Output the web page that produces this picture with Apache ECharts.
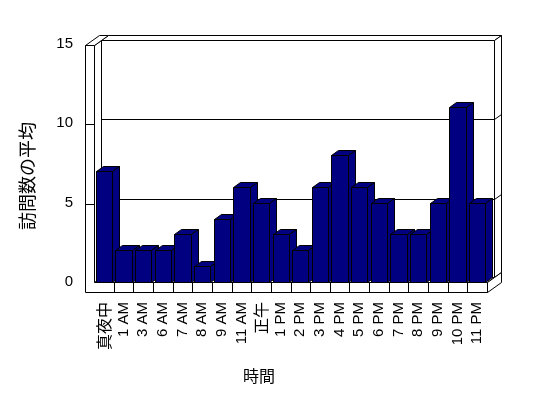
<!DOCTYPE html>
<html>
<head>
<meta charset="utf-8" />
<title>訪問数の平均</title>
<script src="https://cdn.jsdelivr.net/npm/echarts@6/dist/echarts.min.js"></script>
<style>
  html, body { margin: 0; padding: 0; background: #fff; }
  #chart { width: 548px; height: 398px; }
</style>
</head>
<body>
<div id="chart"></div>
<script>
// データ
var hours = ['真夜中', '1 AM', '3 AM', '6 AM', '7 AM', '8 AM', '9 AM', '11 AM', '正午', '1 PM',
             '2 PM', '3 PM', '4 PM', '5 PM', '6 PM', '7 PM', '8 PM', '9 PM', '10 PM', '11 PM'];
var visits = [7, 2, 2, 2, 3, 1, 4, 6, 5, 3, 2, 6, 8, 6, 5, 3, 3, 5, 11, 5];
var yTicks = [0, 5, 10, 15];

var DX = 7, DY = -5;      // 奥行き
var WALL = 9, FLOOR = 10; // 壁・床の厚さ
var NAVY = '#000080';
var FONT = '"Liberation Sans", "Noto Sans CJK JP", sans-serif';

function px(v) { return Math.round(v) + 0.5; }

function poly(points, fill) {
    return {
        type: 'polygon',
        shape: { points: points },
        style: { fill: fill || '#fff', stroke: '#000', lineWidth: 1 }
    };
}
function seg(points) {
    return {
        type: 'polyline',
        shape: { points: points },
        style: { fill: null, stroke: '#000', lineWidth: 1 }
    };
}

// 壁と床
function renderFrame(params, api) {
    var cs = params.coordSys;
    var L = px(cs.x), R = px(cs.x + cs.width), B = px(cs.y + cs.height);
    var T = px(api.coord([0, yTicks[yTicks.length - 1]])[1] + 1);
    var lw = L - WALL;
    var band = cs.width / hours.length;
    var kids = [];

    // back wall
    kids.push(poly([[L + DX, T + DY], [R + DX, T + DY], [R + DX, B + DY], [L + DX, B + DY]]));
    kids.push(poly([[L + DX, T + DY], [R + DX, T + DY], [R + 2 * DX, T + 2 * DY], [L + 2 * DX, T + 2 * DY]]));
    kids.push(poly([[R + DX, T + DY], [R + 2 * DX, T + 2 * DY], [R + 2 * DX, B + 2 * DY], [R + DX, B + DY]]));
    // gridlines
    for (var i = 1; i < yTicks.length - 1; i++) {
        var gy = px(api.coord([0, yTicks[i]])[1] + 1) + DY;
        kids.push(seg([[L + DX, gy], [R + DX, gy], [R + 2 * DX, gy + DY]]));
    }
    // floor
    kids.push(poly([[L, B], [R, B], [R + DX, B + DY], [L + DX, B + DY]]));
    kids.push(poly([[R, B], [R + DX, B + DY], [R + 2 * DX, B + 2 * DY], [R + 2 * DX, B + FLOOR + 2 * DY], [R, B + FLOOR]]));
    // left wall
    kids.push(poly([[L, T], [L + DX, T + DY], [L + DX, B + DY], [L, B]]));
    kids.push(poly([[lw, T], [L, T], [L + 2 * DX, T + 2 * DY], [lw + 2 * DX, T + 2 * DY]]));
    kids.push(poly([[lw, T], [L, T], [L, B], [R, B], [R, B + FLOOR], [lw, B + FLOOR]]));
    for (var j = 1; j < yTicks.length - 1; j++) {
        var ty = px(api.coord([0, yTicks[j]])[1] + 1);
        kids.push(seg([[lw, ty], [L, ty]]));
    }
    // category boxes
    for (var k = 1; k < hours.length; k++) {
        var cx = px(cs.x + k * band);
        kids.push(seg([[cx, B], [cx, B + FLOOR]]));
    }
    return { type: 'group', children: kids };
}

// 3D 棒
function renderBar(params, api) {
    var idx = api.value(0);
    var top = api.coord([idx, api.value(1)]);
    var base = api.coord([idx, 0]);
    var bw = api.size([1, 0])[0] * 0.83;
    var x0 = px(top[0] - bw / 2), x1 = px(top[0] + bw / 2);
    var yT = px(top[1]), yB = px(base[1]);
    return {
        type: 'group',
        children: [
            poly([[x0, yT], [x1, yT], [x1, yB], [x0, yB]], NAVY),
            poly([[x0, yT], [x1, yT], [x1 + DX, yT + DY], [x0 + DX, yT + DY]], NAVY),
            poly([[x1, yT], [x1 + DX, yT + DY], [x1 + DX, yB + DY], [x1, yB]], NAVY)
        ]
    };
}

var myChart = echarts.init(document.getElementById('chart'));

var option = {
    backgroundColor: '#fff',
    animation: false,
    grid: { left: 94, right: 61, top: 44, bottom: 116 },
    xAxis: {
        type: 'category',
        data: hours,
        axisLine: { show: false },
        axisTick: { show: false },
        axisLabel: {
            interval: 0,
            rotate: 90,
            margin: 20,
            color: '#000',
            fontSize: 15,
            fontFamily: FONT,
            formatter: function (v) {
                return /[^\x00-\x7f]/.test(v) ? '{cjk|' + v + '}' : v;
            },
            rich: {
                cjk: { fontSize: 16, fontFamily: '"Noto Sans CJK JP"', color: '#000' }
            }
        }
    },
    yAxis: {
        type: 'value',
        min: 0,
        max: 15,
        interval: 5,
        axisLine: { show: false },
        axisTick: { show: false },
        splitLine: { show: false },
        axisLabel: { margin: 21, color: '#000', fontSize: 15, fontFamily: FONT }
    },
    graphic: [
        {
            type: 'text', x: 27, y: 176, rotation: Math.PI / 2,
            style: { text: '訪問数の平均', font: '18px "Noto Sans CJK JP"', fill: '#000',
                     align: 'center', verticalAlign: 'middle' }
        },
        {
            type: 'text', x: 259, y: 376,
            style: { text: '時間', font: '16px "Noto Sans CJK JP"', fill: '#000',
                     align: 'center', verticalAlign: 'middle' }
        }
    ],
    series: [
        {
            type: 'custom',
            silent: true,
            z: 1,
            renderItem: renderFrame,
            data: [[0, 0]]
        },
        {
            name: '訪問数の平均',
            type: 'custom',
            z: 2,
            renderItem: renderBar,
            encode: { x: 0, y: 1 },
            data: visits.map(function (v, i) { return [i, v]; })
        }
    ]
};
myChart.setOption(option);
</script>
</body>
</html>
